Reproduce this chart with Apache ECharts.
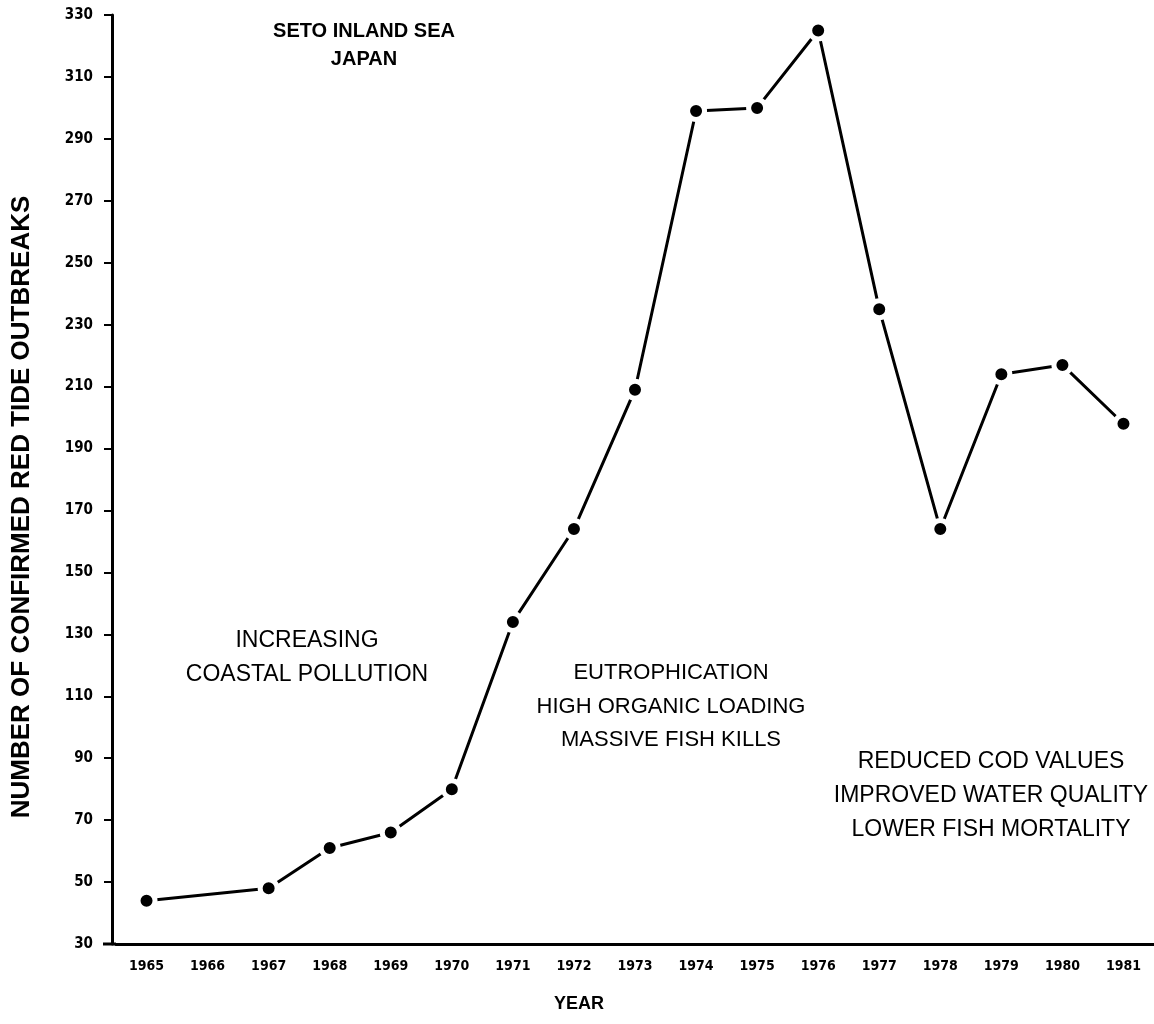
<!DOCTYPE html>
<html>
<head>
<meta charset="utf-8">
<title>Seto Inland Sea red tide outbreaks</title>
<script src="https://cdn.jsdelivr.net/npm/echarts@6/dist/echarts.min.js"></script>
<style>
  html, body { margin: 0; padding: 0; background: #fff; }
  #chart { width: 1154px; height: 1024px; }
</style>
</head>
<body>
<div id="chart"></div>
<script>
// 年份 (1966 has no point, line joins 1965 to 1967)
var years = ["1965", "1966", "1967", "1968", "1969", "1970", "1971", "1972", "1973",
             "1974", "1975", "1976", "1977", "1978", "1979", "1980", "1981"];
// number of confirmed red tide outbreaks
var outbreaks = [44, null, 48, 61, 66, 80, 134, 164, 209, 299, 300, 325, 235, 164, 214, 217, 198];

var yMin = 30;
var yMax = 330;
var yStep = 20;

var tickFont = "'Liberation Sans Narrow', 'DejaVu Sans Condensed', sans-serif";
var textFont = "'Liberation Sans', Arial, sans-serif";

var chart = echarts.init(document.getElementById("chart"));

// centred text lines drawn on top of the plot
function note(lines, x, y, size, weight, lineGap, rot) {
  return lines.map(function (t, i) {
    return {
      type: "text",
      x: x,
      y: y + i * lineGap,
      rotation: rot || 0,
      style: {
        text: t,
        textAlign: "center",
        textVerticalAlign: "middle",
        fontFamily: textFont,
        fontSize: size,
        fontWeight: weight,
        fill: "#000"
      }
    };
  });
}

var option = {
  animation: false,
  backgroundColor: "#fff",
  grid: { left: 116, right: 0, top: 15, bottom: 80 },
  xAxis: {
    type: "category",
    data: years,
    boundaryGap: true,
    axisLine: { lineStyle: { color: "#000", width: 3 } },
    axisTick: { alignWithLabel: true, length: 8, lineStyle: { color: "#000", width: 2 } },
    axisLabel: {
      color: "#000",
      fontFamily: tickFont,
      fontWeight: "bold",
      fontSize: 14,
      margin: 15
    },
    splitLine: { show: false }
  },
  yAxis: {
    type: "value",
    min: yMin,
    max: yMax,
    interval: yStep,
    offset: 4,
    axisLine: { show: true, lineStyle: { color: "#000", width: 3 } },
    axisTick: { show: true, length: 8, lineStyle: { color: "#000", width: 2 } },
    axisLabel: {
      color: "#000",
      fontFamily: tickFont,
      fontWeight: "bold",
      fontSize: 15,
      margin: 19
    },
    splitLine: { show: false }
  },
  series: [
    {
      type: "line",
      data: outbreaks,
      connectNulls: true,
      symbol: "circle",
      symbolSize: 17,
      lineStyle: { color: "#000", width: 3 },
      itemStyle: { color: "#000", borderColor: "#fff", borderWidth: 5 }
    }
  ],
  graphic: [].concat(
    // extend the x axis line a little past the y axis, like the original
    [{ type: "line", shape: { x1: 103, y1: 944, x2: 116, y2: 944 }, style: { stroke: "#000", lineWidth: 3 } }],
    note(["NUMBER OF CONFIRMED RED TIDE OUTBREAKS"], 22, 507, 26, "bold", 0, Math.PI / 2),
    note(["SETO INLAND SEA", "JAPAN"], 364, 31, 20, "bold", 28),
    note(["INCREASING", "COASTAL POLLUTION"], 307, 641, 23, "normal", 34),
    note(["EUTROPHICATION", "HIGH ORGANIC LOADING", "MASSIVE FISH KILLS"], 671, 673, 22, "normal", 33.5),
    note(["REDUCED COD VALUES", "IMPROVED WATER QUALITY", "LOWER FISH MORTALITY"], 991, 762, 23, "normal", 34),
    note(["YEAR"], 579, 1004, 18, "bold", 0)
  )
};

chart.setOption(option);
</script>
</body>
</html>
